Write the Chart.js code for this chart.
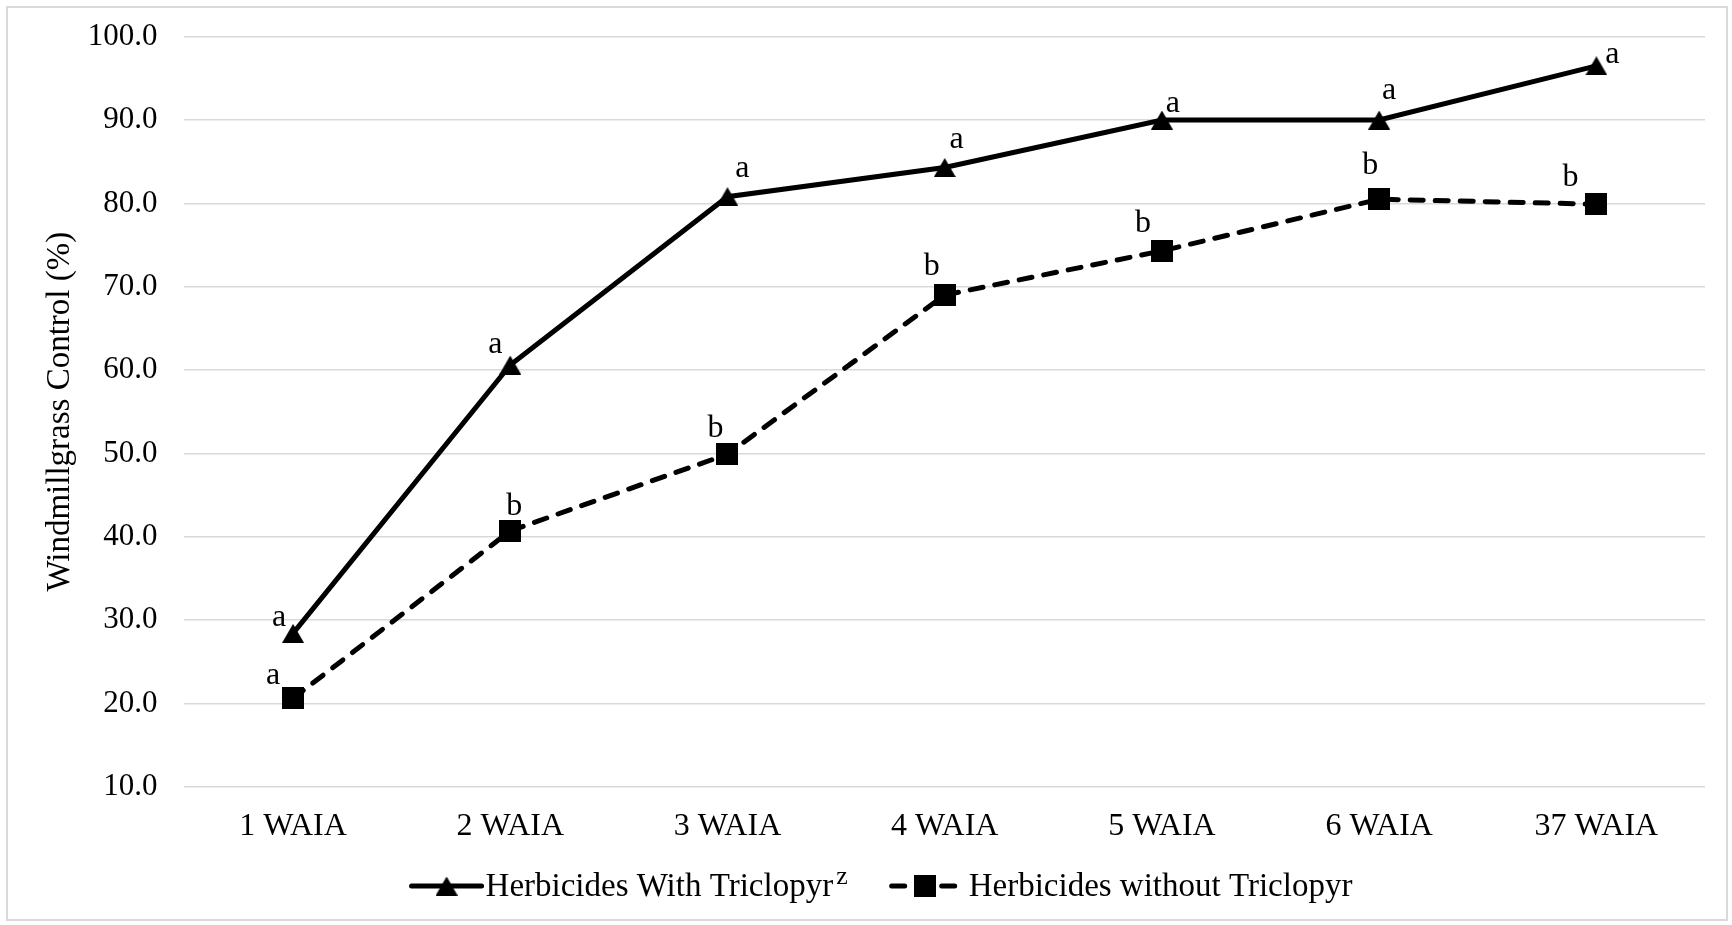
<!DOCTYPE html>
<html><head><meta charset="utf-8">
<script src="https://cdn.jsdelivr.net/npm/chart.js@4.4.1/dist/chart.umd.min.js"></script>
<style>
html,body{margin:0;padding:0;background:#fff;}
#wrap{position:relative;width:1732px;height:925px;}
#frame{position:absolute;left:6px;top:6px;width:1718px;height:911px;border:2px solid #d9d9d9;pointer-events:none;}
canvas{position:absolute;left:0;top:0;}
</style></head><body>
<div id="wrap"><canvas id="c" width="1732" height="925"></canvas><div id="frame"></div></div>
<script>
// ---- data ----
const categories = ['1 WAIA','2 WAIA','3 WAIA','4 WAIA','5 WAIA','6 WAIA','37 WAIA'];
const withTriclopyr = [28.4, 60.6, 80.8, 84.3, 90.0, 90.0, 96.5];
const withoutTriclopyr = [20.6, 40.7, 49.9, 69.0, 74.3, 80.5, 79.9];
const withLetters = ['a','a','a','a','a','a','a'];
const withoutLetters = ['a','b','b','b','b','b','b'];
const yTickValues = [10, 20, 30, 40, 50, 60, 70, 80, 90, 100];
const seriesNames = ['Herbicides With Triclopyr', 'Herbicides without Triclopyr'];
const footnoteMark = 'z';

// ---- styles (letter placement relative to each point: [dx, baseline dy]) ----
const withLetterOffsets = [[-14,-7],[-15,-12],[15,-20],[12,-20],[11,-8],[10,-21],[16,-3]];
const withoutLetterOffsets = [[-20,-14],[4,-16],[-12,-17],[-13,-20],[-19,-19],[-9,-25],[-26,-18]];
const FONT = '"Liberation Serif", "Times New Roman", serif';

function makeTriangle(w, h) {
  const c = document.createElement('canvas'); c.width = w; c.height = h;
  const x = c.getContext('2d'); x.fillStyle = '#000';
  x.beginPath(); x.moveTo(w/2, 0); x.lineTo(w, h); x.lineTo(0, h); x.closePath(); x.fill();
  return c;
}
function makeSquare(s) {
  const c = document.createElement('canvas'); c.width = s; c.height = s;
  const x = c.getContext('2d'); x.fillStyle = '#000'; x.fillRect(0, 0, s, s);
  return c;
}
const tri = makeTriangle(22, 19);
const sq = makeSquare(22);

const letterPlugin = {
  id: 'letters',
  afterDatasetsDraw(chart) {
    const ctx = chart.ctx;
    const sets = [[withLetters, withLetterOffsets], [withoutLetters, withoutLetterOffsets]];
    ctx.save();
    ctx.font = '32px ' + FONT;
    ctx.fillStyle = '#000';
    ctx.textAlign = 'center';
    ctx.textBaseline = 'alphabetic';
    sets.forEach(([letters, offs], i) => {
      const meta = chart.getDatasetMeta(i);
      meta.data.forEach((pt, j) => {
        ctx.fillText(letters[j], pt.x + offs[j][0], pt.y + offs[j][1]);
      });
    });
    ctx.restore();
  }
};

const legendPlugin = {
  id: 'customLegend',
  afterDraw(chart) {
    const ctx = chart.ctx;
    ctx.save();
    ctx.font = '33px ' + FONT;
    const t1 = ctx.measureText(seriesNames[0]).width;
    const t2 = ctx.measureText(seriesNames[1]).width;
    ctx.font = '26px ' + FONT;
    const zw = ctx.measureText(footnoteMark).width;
    const lineLen = 70, gapText = 4, zGap = 3, itemGap = 42;
    const total = lineLen + gapText + t1 + zGap + zw + itemGap + lineLen + gapText + 5 + t2;
    let x = chart.width / 2 + 16 - total / 2;
    const ly = 886, by = 896;
    // item 1
    ctx.strokeStyle = '#000'; ctx.lineWidth = 5; ctx.lineCap = 'round';
    ctx.beginPath(); ctx.moveTo(x, ly); ctx.lineTo(x + lineLen, ly); ctx.stroke();
    ctx.drawImage(tri, x + lineLen/2 - tri.width/2, ly - tri.height/2);
    x += lineLen + gapText;
    ctx.fillStyle = '#000'; ctx.textBaseline = 'alphabetic'; ctx.textAlign = 'left';
    ctx.font = '33px ' + FONT;
    ctx.fillText(seriesNames[0], x, by);
    x += t1 + zGap;
    ctx.font = '26px ' + FONT;
    ctx.fillText(footnoteMark, x, by - 12);
    x += zw + itemGap;
    // item 2
    ctx.setLineDash([13, 12]);
    ctx.beginPath(); ctx.moveTo(x + 2, ly); ctx.lineTo(x + lineLen, ly); ctx.stroke();
    ctx.setLineDash([]);
    ctx.drawImage(sq, x + lineLen/2 - sq.width/2, ly - sq.height/2);
    x += lineLen + gapText + 5;
    ctx.font = '33px ' + FONT;
    ctx.fillText(seriesNames[1], x, by);
    ctx.restore();
  }
};

new Chart(document.getElementById('c'), {
  type: 'line',
  data: {
    labels: categories,
    datasets: [
      { label: seriesNames[0], data: withTriclopyr, borderColor: '#000', backgroundColor: '#000',
        borderWidth: 5, pointStyle: tri, pointRadius: 11, pointHoverRadius: 11, tension: 0, fill: false },
      { label: seriesNames[1], data: withoutTriclopyr, borderColor: '#000', backgroundColor: '#000',
        borderWidth: 5, borderDash: [13, 12], borderCapStyle: 'round',
        pointStyle: sq, pointRadius: 11, pointHoverRadius: 11, tension: 0, fill: false }
    ]
  },
  options: {
    responsive: false,
    animation: false,
    devicePixelRatio: 1,
    layout: { padding: { top: 36.7, right: 27, bottom: 0, left: 0 } },
    plugins: { legend: { display: false }, tooltip: { enabled: false } },
    scales: {
      x: {
        offset: true,
        grid: { display: false },
        border: { display: false },
        ticks: { color: '#000', font: { family: FONT, size: 32 }, padding: 13, maxRotation: 0, autoSkip: false },
        afterFit: s => { s.height = 138.3; s.paddingLeft = 0; s.paddingRight = 0; }
      },
      y: {
        min: 10, max: 100,
        afterBuildTicks: s => { s.ticks = yTickValues.map(v => ({ value: v })); },
        ticks: { color: '#000', font: { family: FONT, size: 31 }, padding: 27, callback: v => Number(v).toFixed(1) },
        grid: { color: '#d9d9d9', lineWidth: 1.5, drawTicks: false },
        border: { display: false },
        title: { display: true, text: 'Windmillgrass Control (%)', color: '#000',
                 font: { family: FONT, size: 33 }, padding: { top: 41, bottom: 0 } },
        afterFit: s => { s.width = 184.4; s.paddingTop = 0; s.paddingBottom = 0; }
      }
    }
  },
  plugins: [letterPlugin, legendPlugin]
});
</script>
</body></html>
